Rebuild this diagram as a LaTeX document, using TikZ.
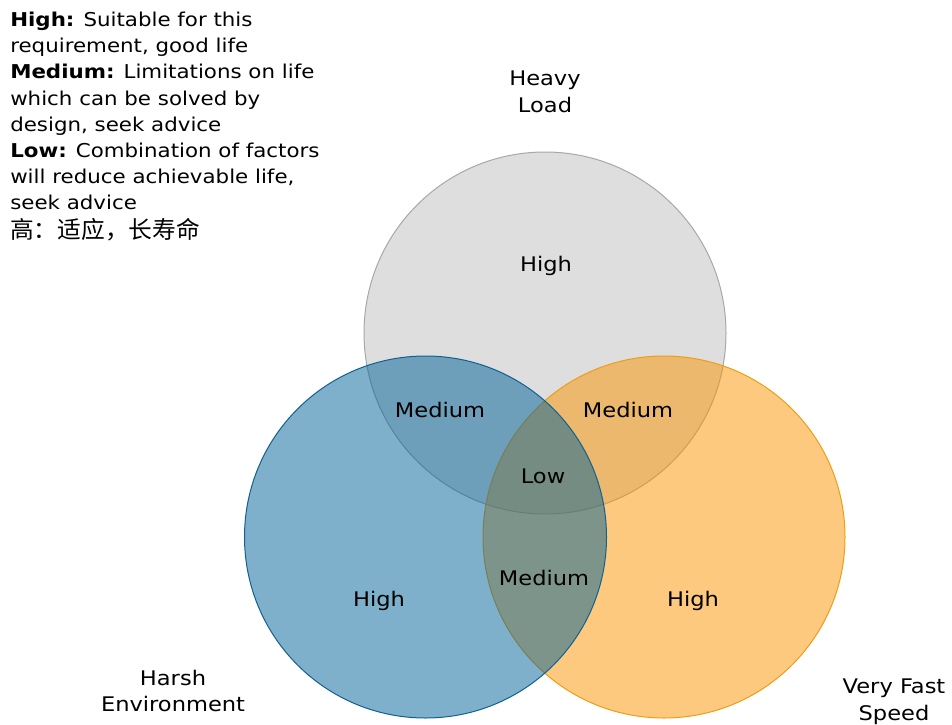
\documentclass[tikz,border=0pt]{standalone}
\usepackage{fontspec}
\setmainfont[FakeStretch=1.12]{DejaVu Sans}
\newfontfamily\cjkfont{Noto Sans CJK SC}
\definecolor{grayfill}{RGB}{222,222,222}
\definecolor{grayedge}{RGB}{168,168,168}
\definecolor{bluefill}{RGB}{0,97,151}
\definecolor{blueedge}{RGB}{16,96,146}
\definecolor{orangefill}{RGB}{249,147,0}
\definecolor{orangeedge}{RGB}{238,158,20}
\begin{document}
\begin{tikzpicture}[x=0.75pt,y=-0.75pt,
  setcircle/.style={circle,inner sep=0pt,outer sep=0pt,minimum size=271.5pt,line width=0.75pt},
  legendtxt/.style={anchor=base west,inner sep=0pt,font=\fontsize{14.3}{19.5}\selectfont},
  lbl/.style={anchor=base,inner sep=0pt,font=\fontsize{15.1}{20}\selectfont}]
\useasboundingbox (0,0) rectangle (952,724);
% circles
\node[setcircle,fill=grayfill,draw=grayedge] (load) at (545,333) {};
\node[setcircle,fill=orangefill,fill opacity=0.5,draw=orangeedge] (speed) at (664,537) {};
\node[setcircle,fill=bluefill,fill opacity=0.5,draw=blueedge] (env) at (425.5,537) {};
% legend
\node[legendtxt] (l1) at (10,27) {\textbf{High:} Suitable for this};
\node[legendtxt] (l2) at (10,53) {requirement, good life};
\node[legendtxt] (l3) at (10,79) {\textbf{Medium:} Limitations on life};
\node[legendtxt] (l4) at (10,105) {which can be solved by};
\node[legendtxt] (l5) at (10,131) {design, seek advice};
\node[legendtxt] (l6) at (10,157) {\textbf{Low:} Combination of factors};
\node[legendtxt] (l7) at (10,183) {will reduce achievable life,};
\node[legendtxt] (l8) at (10,209) {seek advice};
\node[legendtxt,font=\cjkfont\fontsize{17.8}{20}\selectfont] (l9) at (10,238) {高：适应，长寿命};
% set titles
\node[lbl] (t1a) at (545,85) {Heavy};
\node[lbl] (t1b) at (545,112) {Load};
\node[lbl] (t2a) at (173,685) {Harsh};
\node[lbl] (t2b) at (173,711) {Environment};
\node[lbl] (t3a) at (894,693) {Very Fast};
\node[lbl] (t3b) at (894,720) {Speed};
% region labels
\node[lbl] (r1) at (546,271) {High};
\node[lbl] (r2) at (440,417) {Medium};
\node[lbl] (r3) at (628,417) {Medium};
\node[lbl] (r4) at (543,483) {Low};
\node[lbl] (r5) at (544,585) {Medium};
\node[lbl] (r6) at (379,606) {High};
\node[lbl] (r7) at (693,606) {High};
\end{tikzpicture}
\end{document}
